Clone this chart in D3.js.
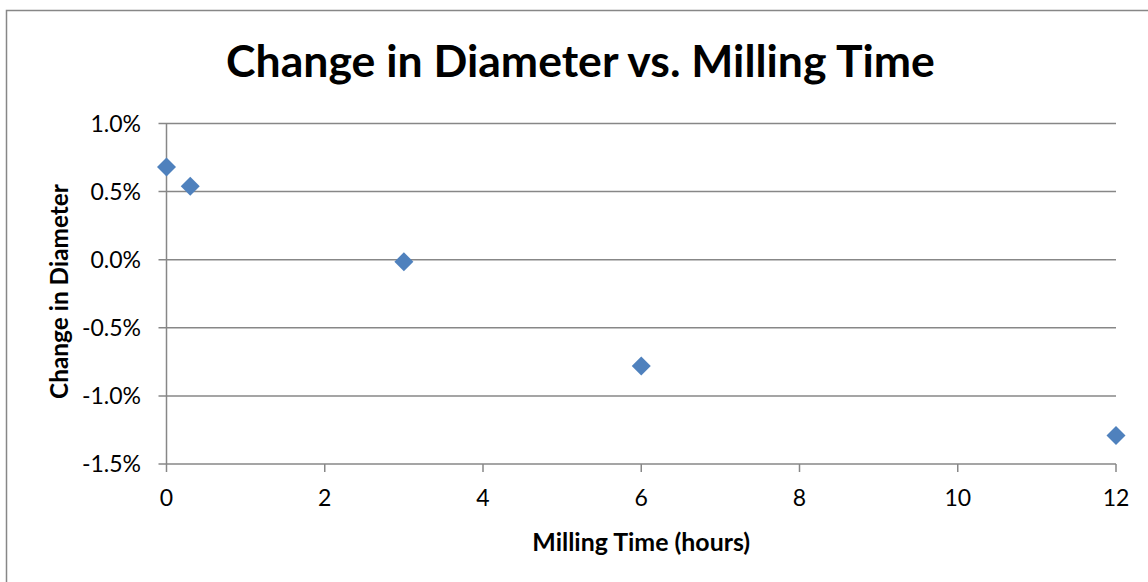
<!DOCTYPE html>
<html>
<head>
<meta charset="utf-8">
<script src="https://cdn.jsdelivr.net/npm/d3@7"></script>
<style>
  body { margin: 0; background: #fff; }
  text { font-family: Lato, "Open Sans", sans-serif; fill: #000; }
</style>
</head>
<body>
<div id="chart"></div>
<script>
var width = 1148;
var height = 582;

// data
var hours = [0, 0.3, 3, 6, 12];
var change = [0.0068, 0.0054, -0.00015, -0.0078, -0.0129];
var xTicks = [0, 2, 4, 6, 8, 10, 12];
var yTicks = [0.01, 0.005, 0, -0.005, -0.01, -0.015];

var margin = {left: 166.5, right: 1116, top: 123.5, bottom: 464};

var svg = d3.select("#chart")
    .append("svg")
    .attr("width", width)
    .attr("height", height);

// outer chart border
svg.append("rect")
    .attr("x", 6.5).attr("y", 10.5)
    .attr("width", 1160).attr("height", 600)
    .attr("fill", "none")
    .attr("stroke", "#878787")
    .attr("stroke-width", 1.5);

var x = d3.scaleLinear().domain([0, 12]).range([margin.left, margin.right]);
var y = d3.scaleLinear().domain([-0.015, 0.01]).range([margin.bottom, margin.top]);

// horizontal gridlines
svg.append("g")
    .selectAll("line")
    .data(yTicks)
    .enter().append("line")
    .attr("x1", margin.left - 8)
    .attr("x2", margin.right)
    .attr("y1", function (d) { return y(d); })
    .attr("y2", function (d) { return y(d); })
    .style("stroke", "#878787")
    .style("stroke-width", 1.5);

// y axis line
svg.append("line")
    .attr("x1", margin.left).attr("x2", margin.left)
    .attr("y1", margin.top).attr("y2", margin.bottom + 8)
    .style("stroke", "#878787")
    .style("stroke-width", 1.5);

// x ticks
svg.append("g")
    .selectAll("line")
    .data(xTicks.slice(1))
    .enter().append("line")
    .attr("x1", function (d) { return x(d); })
    .attr("x2", function (d) { return x(d); })
    .attr("y1", margin.bottom)
    .attr("y2", margin.bottom + 8)
    .style("stroke", "#878787")
    .style("stroke-width", 1.5);

// tick labels
svg.append("g")
    .selectAll("text")
    .data(yTicks)
    .enter().append("text")
    .attr("x", 141)
    .attr("y", function (d) { return y(d) + 8; })
    .attr("text-anchor", "end")
    .style("font-size", "23px")
    .text(function (d) { return d3.format(".1%")(d).replace("−", "-"); });

svg.append("g")
    .selectAll("text")
    .data(xTicks)
    .enter().append("text")
    .attr("x", function (d) { return x(d); })
    .attr("y", 506)
    .attr("text-anchor", "middle")
    .style("font-size", "23px")
    .text(function (d) { return d; });

// markers
var diamond = d3.symbol().type(d3.symbolSquare).size(180);
svg.append("g")
    .selectAll("path")
    .data(hours)
    .enter().append("path")
    .attr("d", diamond)
    .attr("transform", function (d, i) {
        return "translate(" + x(d) + "," + y(change[i]) + ") rotate(45)";
    })
    .attr("fill", "#4F81BD");

// scale a label's font so it spans the wanted width
function fitWidth(sel, target) {
    var size = parseFloat(sel.style("font-size"));
    var len = sel.node().getComputedTextLength();
    sel.style("font-size", (size * target / len) + "px");
}

// titles
var title = svg.append("text")
    .attr("x", 580.5).attr("y", 77)
    .attr("text-anchor", "middle")
    .style("font-size", "40px")
    .style("font-weight", "bold")
    .text("Change in Diameter vs. Milling Time");
fitWidth(title, 709);

var xTitle = svg.append("text")
    .attr("x", x(6)).attr("y", 551)
    .attr("text-anchor", "middle")
    .style("font-size", "22px")
    .style("font-weight", "bold")
    .text("Milling Time (hours)");
fitWidth(xTitle, 218);

var yTitle = svg.append("text")
    .attr("transform", "translate(68,291.5) rotate(-90)")
    .attr("text-anchor", "middle")
    .style("font-size", "22px")
    .style("font-weight", "bold")
    .text("Change in Diameter");
fitWidth(yTitle, 215);
</script>
</body>
</html>
